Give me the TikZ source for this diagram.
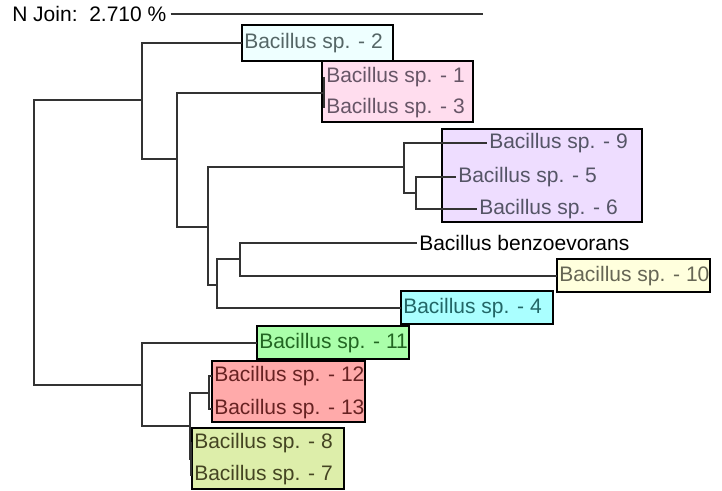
\documentclass[tikz,border=0pt]{standalone}
\usepackage{fontspec}
\setmainfont{Liberation Sans}
\definecolor{treegray}{HTML}{333333}
\definecolor{cyanbg}{HTML}{EEFFFF}\definecolor{cyantx}{HTML}{556666}
\definecolor{pinkbg}{HTML}{FFDDEE}\definecolor{pinktx}{HTML}{665566}
\definecolor{lilacbg}{HTML}{EEDDFF}\definecolor{lilactx}{HTML}{555566}
\definecolor{creambg}{HTML}{FFFFDD}\definecolor{creamtx}{HTML}{666655}
\definecolor{aquabg}{HTML}{AAFFFF}\definecolor{aquatx}{HTML}{226666}
\definecolor{greenbg}{HTML}{AAFFAA}\definecolor{greentx}{HTML}{226622}
\definecolor{redbg}{HTML}{FFAAAA}\definecolor{redtx}{HTML}{662222}
\definecolor{olivebg}{HTML}{DDEEAA}\definecolor{olivetx}{HTML}{444422}

\begin{document}
\begin{tikzpicture}[x=0.75pt,y=-0.75pt,
  every node/.style={font=\fontsize{15.75}{18}\selectfont},
  leaf/.style={anchor=west,inner xsep=1.5pt,inner ysep=0pt},
  branch/.style={draw=treegray,line width=0.8pt},
  clusterbox/.style={draw=black,line width=1.1pt}]
\useasboundingbox (0,0) rectangle (722,490);
% cluster boxes
\draw[clusterbox,fill=cyanbg] (242,25) rectangle (393,61);
\draw[clusterbox,fill=pinkbg] (322,61) rectangle (473,122);
\draw[clusterbox,fill=lilacbg] (442,129) rectangle (642,222);
\draw[clusterbox,fill=creambg] (557,259) rectangle (710,292);
\draw[clusterbox,fill=aquabg] (401,291) rectangle (553,324);
\draw[clusterbox,fill=greenbg] (257,326) rectangle (409,359);
\draw[clusterbox,fill=redbg] (212,361) rectangle (365,422);
\draw[clusterbox,fill=olivebg] (192,428) rectangle (344,489);
% scale
\node[anchor=west,inner sep=0pt] (scale) at (12,14) {N Join:\ \ 2.710 \%};
\coordinate (scaleend) at (483,14);
\draw[branch] ([xshift=3pt]scale.east) -- (scaleend);
% leaves
\node[leaf,text=cyantx] (l2) at (242,43) {Bacillus sp. - 2};
\node[leaf,text=pinktx] (l1) at (324,77) {Bacillus sp. - 1};
\node[leaf,text=pinktx] (l3) at (324,108) {Bacillus sp. - 3};
\node[leaf,text=lilactx] (l9) at (487,143) {Bacillus sp. - 9};
\node[leaf,text=lilactx] (l5) at (456,177) {Bacillus sp. - 5};
\node[leaf,text=lilactx] (l6) at (477,209) {Bacillus sp. - 6};
\node[leaf] (lbz) at (417,243) {Bacillus benzoevorans};
\node[leaf,text=creamtx] (l10) at (557,276) {Bacillus sp. - 10};
\node[leaf,text=aquatx] (l4) at (401,308) {Bacillus sp. - 4};
\node[leaf,text=greentx] (l11) at (257,343) {Bacillus sp. - 11};
\node[leaf,text=redtx] (l12) at (212,376) {Bacillus sp. - 12};
\node[leaf,text=redtx] (l13) at (212,409) {Bacillus sp. - 13};
\node[leaf,text=olivetx] (l8) at (192,443) {Bacillus sp. - 8};
\node[leaf,text=olivetx] (l7) at (192,475) {Bacillus sp. - 7};
% inner nodes
\coordinate (root) at (34,242);
\coordinate (nA) at (142,100);
\coordinate (nB) at (177,159);
\coordinate (n13) at (324,93);
\coordinate (nC) at (208,227);
\coordinate (nD) at (404,167);
\coordinate (nF) at (416,193);
\coordinate (nE) at (217,285);
\coordinate (nG) at (240,259);
\coordinate (nH) at (142,385);
\coordinate (nI) at (190,426);
\coordinate (n12) at (209,393);
\coordinate (n87) at (191,459);
% branches
\draw[branch] (root) |- (nA) (root) |- (nH);
\draw[branch] (nA) |- (l2.west) (nA) |- (nB);
\draw[branch] (nB) |- (n13) (nB) |- (nC);
\draw[branch] (n13) |- (l1.west) (n13) |- (l3.west);
\draw[branch] (nC) |- (nD) (nC) |- (nE);
\draw[branch] (nD) |- (l9.west) (nD) |- (nF);
\draw[branch] (nF) |- (l5.west) (nF) |- (l6.west);
\draw[branch] (nE) |- (nG) (nE) |- (l4.west);
\draw[branch] (nG) |- (lbz.west) (nG) |- (l10.west);
\draw[branch] (nH) |- (l11.west) (nH) |- (nI);
\draw[branch] (nI) |- (n12) (nI) |- (n87);
\draw[branch] (n12) |- (l12.west) (n12) |- (l13.west);
\draw[branch] (n87) |- (l8.west) (n87) |- (l7.west);
\end{tikzpicture}
\end{document}
